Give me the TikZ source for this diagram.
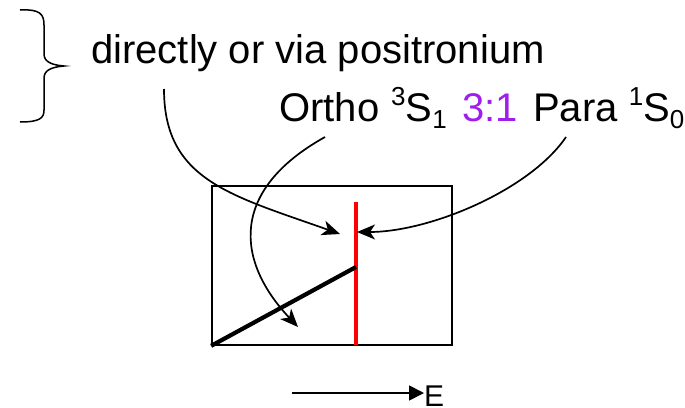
\documentclass[tikz,border=0pt]{standalone}
\usepackage{fontspec}
\setmainfont{Liberation Sans}
\usepackage{xcolor}
\usepackage{tikz}
\usetikzlibrary{arrows.meta, positioning}
\definecolor{ratiopurple}{RGB}{160,30,235}
\tikzstyle{label} = [inner sep=0pt, font=\fontsize{40}{48}\selectfont]
\tikzstyle{arrow} = [line width=1.7pt, -{Stealth[length=18pt, width=15pt, inset=5pt]}]
\tikzstyle{bigarrow} = [line width=1.7pt, -{Triangle[length=15pt, width=15pt]}]
\newcommand{\upnum}[1]{\raisebox{0.75ex}{\fontsize{26}{26}\selectfont #1}}
\newcommand{\dnnum}[1]{\raisebox{-0.35ex}{\fontsize{26}{26}\selectfont #1}}

\begin{document}
\begin{tikzpicture}[x=1pt, y=-1pt]
\useasboundingbox (0,0) rectangle (685,407);

\draw [line width=1.5pt] (20,10) .. controls (40,9) and (44,14) .. (44,25) -- (44,54) .. controls (44,62) and (52,65) .. (64,66) .. controls (52,67) and (44,70) .. (44,78) -- (44,110) .. controls (44,118) and (40,122) .. (20,122);

\node (direct) [label, anchor=base west] at (91,63) {directly or via positronium};
\node (ortho) [label, anchor=base west] at (279,121) {Ortho\hspace{0.3em}\upnum{3}S\dnnum{1}};
\node (ratio) [label, anchor=base west, text=ratiopurple] at (462,121) {3:1};
\node (para) [label, anchor=base west] at (533,121) {Para \upnum{1}S\dnnum{0}};

\node (box) [draw, line width=1.7pt, minimum width=240pt, minimum height=159pt, inner sep=0pt] at (332,265.5) {};
\coordinate (edge top) at (356,202);
\coordinate (edge bottom) at (356,345);
\coordinate (edge knee) at (356,267);
\draw [red, line width=3.2pt] (edge top) -- (edge bottom);
\draw [line width=4.2pt] (box.south west) -- (edge knee);

\coordinate (direct start) at (164,89);
\coordinate (direct end) at (340,234);
\coordinate (ortho start) at (325,137);
\coordinate (ortho end) at (298,327);
\coordinate (para start) at (566,137);
\coordinate (para end) at (357,232);
\draw [arrow] (direct start) .. controls (164,180) and (230,195) .. (direct end);
\draw [arrow] (ortho start) .. controls (230,190) and (235,260) .. (ortho end);
\draw [arrow] (para start) .. controls (530,190) and (430,232) .. (para end);

\node (energy) [inner sep=0pt, anchor=base west, font=\fontsize{30}{36}\selectfont] at (424,406) {E};
\coordinate (energy start) at (292,393);
\draw [bigarrow] (energy start) -- (energy.west |- energy start);

\end{tikzpicture}
\end{document}
